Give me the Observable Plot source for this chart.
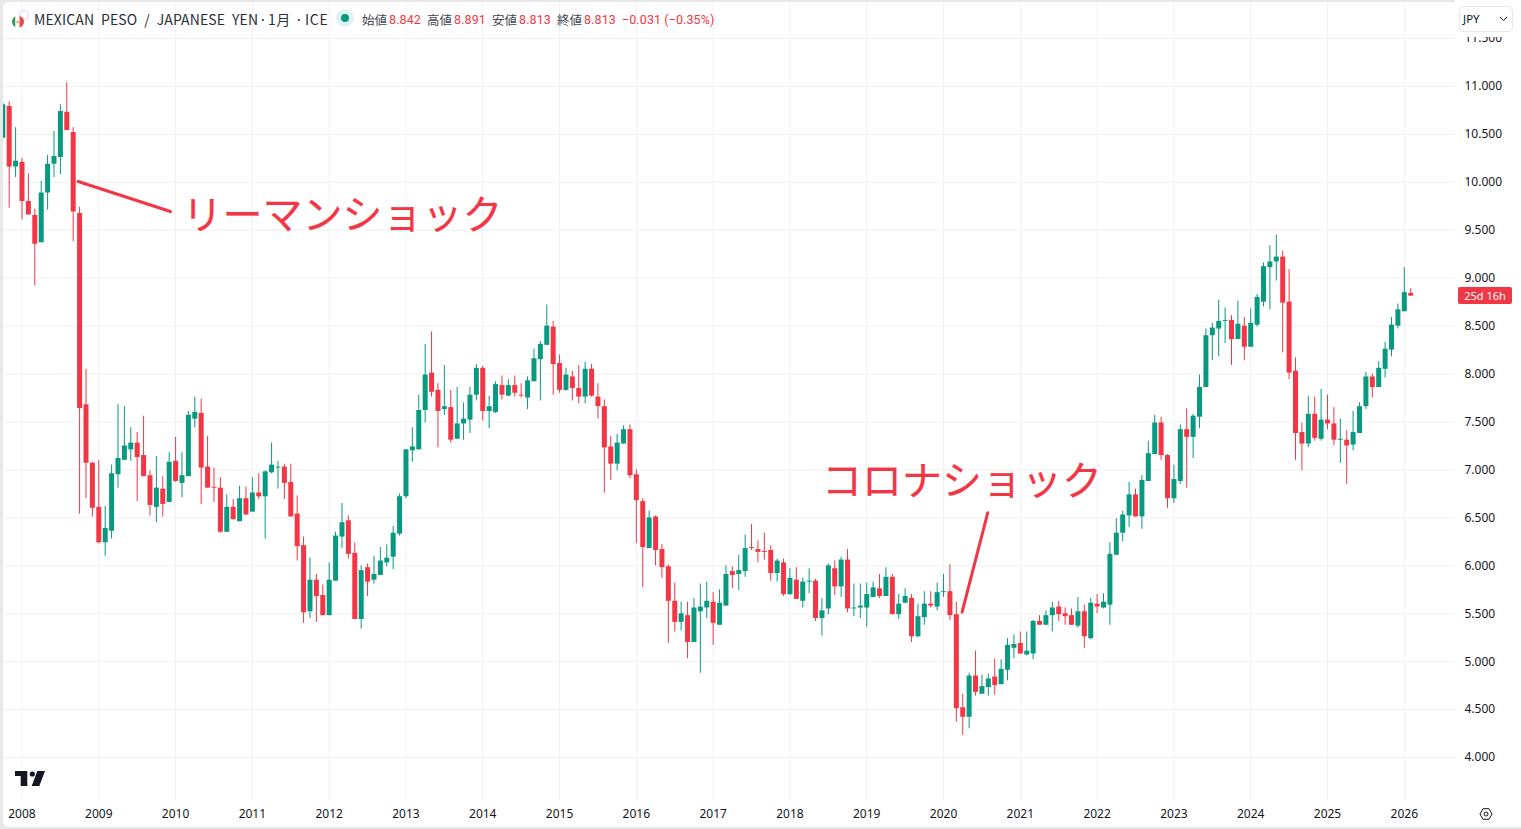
<!DOCTYPE html>
<html lang="ja">
<head>
<meta charset="utf-8">
<script src="https://cdn.jsdelivr.net/npm/d3@7"></script>
<script src="https://cdn.jsdelivr.net/npm/@observablehq/plot@0.6"></script>
<style>
html,body{margin:0;padding:0;width:1521px;height:829px;overflow:hidden;background:#e8e8e8;font-family:"Noto Sans","Noto Sans CJK JP",sans-serif}
#panel{position:absolute;left:3px;top:2px;width:1518px;height:825px;background:#fff;border-radius:6px 0 0 6px;overflow:hidden}
#panel svg{display:block}
.t{position:absolute;white-space:nowrap;line-height:16px}
.h{top:11px;font-size:14px;color:#2a2e39;font-family:'Noto Sans CJK JP',sans-serif}
.g{color:#434651;font-size:12.5px;top:12px;font-family:"Noto Sans CJK JP",sans-serif}
.r{color:#f23645;font-size:12.5px;top:12px;font-family:Roboto,sans-serif;letter-spacing:.1px}
#cover{position:absolute;left:1455px;top:0;width:66px;height:36.5px;background:#fff}
#jpy{position:absolute;left:1459px;top:6px;width:54px;height:26px;box-sizing:border-box;border:1px solid #e6e8ee;border-radius:5px;background:#fff;color:#131722;font-size:11.5px;line-height:24px;padding-left:3px}
#count{position:absolute;left:1458px;top:287px;width:54px;height:17px;background:#f23645;border-radius:2px;color:#fff;font-size:11px;line-height:17px;text-align:center;font-family:"Noto Sans",sans-serif}
svg.ic{position:absolute;left:0;top:0;pointer-events:none}
</style>
</head>
<body>
<div id="panel"></div>
<div class="t h" style="left:34px;letter-spacing:.12px;word-spacing:3.6px">MEXICAN PESO / JAPANESE YEN</div>
<div class="t h" style="left:259px">·</div>
<div class="t h" style="left:268px;letter-spacing:.5px">1月</div>
<div class="t h" style="left:295px">·</div>
<div class="t h" style="left:305px;letter-spacing:.7px">ICE</div>
<div class="t g" style="left:362px">始値</div><div class="t r" style="left:389px">8.842</div>
<div class="t g" style="left:427px">高値</div><div class="t r" style="left:454px">8.891</div>
<div class="t g" style="left:492px">安値</div><div class="t r" style="left:519px">8.813</div>
<div class="t g" style="left:557px">終値</div><div class="t r" style="left:584px">8.813</div>
<div class="t r" style="left:622px">−0.031 (−0.35%)</div>
<div id="cover"></div>
<div id="jpy">JPY</div>
<div id="count">25d 16h</div>
<svg class="ic" width="1521" height="829">
  <defs><clipPath id="flag"><circle cx="18" cy="21.700" r="6"/></clipPath></defs>
  <circle cx="345" cy="18" r="9" fill="#089981" fill-opacity=".12"/>
  <circle cx="345" cy="18" r="4" fill="#089981"/>
  <path d="M1500 17l3.500 3.500 3.500-3.500" fill="none" stroke="#131722" stroke-width="1"/>
  <path d="M15 771h12.300v15h-6.600v-10H15z" fill="#131722"/>
  <circle cx="32.300" cy="774" r="2.600" fill="#131722"/>
  <path d="M37.300 771H45l-5.700 15h-7.600z" fill="#131722"/>
  <path d="M1480 814l3-5.300h6l3 5.300-3 5.300h-6z" fill="none" stroke="#131722" stroke-width="1"/>
  <circle cx="1486" cy="814" r="2" fill="none" stroke="#131722" stroke-width="1"/>
  <circle cx="24" cy="15" r="4.500" fill="#ffffff" stroke="#e4e2f3" stroke-width="1.500"/>
  <g clip-path="url(#flag)">
    <rect x="12" y="15" width="3.500" height="13" fill="#2e9b5f"/>
    <rect x="15.500" y="15" width="4" height="13" fill="#ffffff"/>
    <rect x="19.500" y="15" width="4.500" height="13" fill="#e5484d"/>
    <circle cx="17.500" cy="22" r="1.200" fill="#d9a441"/>
  </g>
</svg>
<script>
const opens = [
  10.46,10.79,10.16,
  10.21,9.80,9.655,9.37,9.89,10.19,10.26,10.73,10.52,9.675,7.68,7.07,
  6.61,6.24,6.36,6.95,7.10,7.21,7.28,7.15,6.94,6.61,6.80,6.66,
  7.09,6.86,6.93,7.53,7.59,7.03,6.82,6.81,6.35,6.61,6.46,6.70,
  6.56,6.76,6.72,6.97,7.02,7.03,6.87,6.54,6.21,5.52,5.85,5.69,
  5.48,5.84,6.30,6.47,6.13,5.44,5.98,5.85,5.90,6.03,6.09,6.33,
  6.72,7.20,7.21,7.62,8.01,7.83,7.63,7.65,7.32,7.48,7.52,7.78,
  8.06,7.61,7.60,7.88,7.77,7.88,7.78,7.75,7.92,8.15,8.30,8.49,
  8.11,7.83,7.97,7.85,7.76,8.05,7.76,7.66,7.24,7.06,7.27,7.42,
  6.95,6.67,6.18,6.51,6.17,5.99,5.63,5.41,5.48,5.20,5.52,5.56,
  5.62,5.38,5.58,5.94,5.91,5.94,6.19,6.17,6.15,6.16,5.92,6.03,
  5.70,5.85,5.63,5.83,5.84,5.45,5.55,5.97,5.78,6.06,5.55,5.56,
  5.56,5.67,5.76,5.68,5.88,5.49,5.61,5.66,5.26,5.46,5.60,5.57,
  5.72,5.73,5.49,4.52,4.42,4.85,4.66,4.73,4.84,4.76,4.91,5.14,
  5.19,5.07,5.08,5.42,5.38,5.48,5.57,5.50,5.48,5.37,5.52,5.24,
  5.60,5.56,5.59,6.11,6.34,6.52,6.74,6.51,6.88,7.16,7.49,7.15,
  6.70,6.88,7.42,7.34,7.55,7.86,8.40,8.47,8.55,8.56,8.36,8.50,
  8.28,8.51,8.75,9.11,9.17,9.22,8.75,8.03,7.39,7.27,7.58,7.32,
  7.52,7.48,7.31,7.31,7.26,7.38,7.66,7.97,7.86,8.05,8.25,8.50,
  8.65,8.842
];
const highs = [
  10.83,10.84,10.57,
  10.25,10.09,9.72,10.01,10.28,10.53,10.81,11.04,10.57,9.74,8.05,7.08,
  7.10,6.62,7.05,7.68,7.66,7.44,7.39,7.56,6.99,7.14,6.93,7.18,
  7.34,7.18,7.61,7.76,7.74,7.35,7.02,6.92,6.74,6.69,6.83,6.82,
  6.92,6.96,6.99,7.28,7.09,7.06,7.06,6.73,6.30,6.08,5.91,5.80,
  6.03,6.35,6.65,6.52,6.24,6.00,6.02,6.10,6.19,6.22,6.41,6.75,
  7.21,7.44,7.78,8.31,8.44,7.90,8.09,7.83,7.86,7.70,7.86,8.10,
  8.08,7.77,7.92,7.98,7.94,7.98,7.90,7.97,8.26,8.34,8.72,8.55,
  8.20,8.06,8.03,8.09,8.12,8.10,7.90,7.73,7.35,7.37,7.46,7.47,
  7.00,6.70,6.57,6.52,6.22,6.01,5.82,5.62,5.62,5.66,5.81,5.83,
  5.72,5.75,6.00,5.99,6.11,6.32,6.43,6.26,6.34,6.21,6.07,6.07,
  5.97,5.98,5.87,5.97,5.86,5.66,6.02,6.05,6.09,6.17,5.81,5.81,
  5.82,5.83,5.91,5.98,5.91,5.70,5.76,5.70,5.60,5.73,5.73,5.82,
  5.91,6.01,5.62,4.66,4.88,5.11,4.86,4.87,5.03,5.02,5.24,5.28,
  5.31,5.31,5.43,5.48,5.53,5.62,5.63,5.56,5.55,5.67,5.59,5.66,
  5.70,5.71,6.24,6.49,6.57,6.87,6.80,6.94,7.30,7.57,7.55,7.16,
  7.05,7.47,7.64,7.58,7.99,8.47,8.53,8.77,8.69,8.61,8.76,8.59,
  8.68,8.83,9.16,9.34,9.45,9.28,9.09,8.17,7.49,7.77,7.76,7.84,
  7.78,7.65,7.53,7.41,7.61,7.70,8.02,8.00,8.13,8.33,8.59,8.73,
  9.11,8.891
];
const lows = [
  10.45,9.73,10.05,
  9.61,9.66,8.92,9.37,9.71,10.05,10.08,10.54,9.38,6.54,6.70,6.51,
  6.23,6.10,6.28,6.81,7.10,7.09,6.67,6.93,6.52,6.45,6.51,6.66,
  6.87,6.71,6.93,7.44,6.64,6.81,6.66,6.34,6.35,6.48,6.46,6.53,
  6.56,6.69,6.28,6.96,6.80,6.69,6.51,6.05,5.40,5.45,5.41,5.48,
  5.48,5.84,6.18,6.07,5.44,5.34,5.68,5.81,5.90,5.99,5.96,6.31,
  6.70,7.08,7.21,7.49,7.76,7.23,7.57,7.28,7.32,7.31,7.38,7.72,
  7.51,7.43,7.59,7.73,7.77,7.76,7.75,7.63,7.92,7.72,8.30,7.78,
  7.80,7.82,7.72,7.69,7.69,7.76,7.53,6.76,6.89,6.99,7.27,6.91,
  6.23,5.77,6.18,6.00,5.87,5.19,5.31,5.32,5.03,5.20,4.88,5.45,
  5.17,5.38,5.58,5.76,5.74,5.88,6.16,6.03,6.06,5.84,5.83,5.68,
  5.69,5.65,5.56,5.71,5.42,5.27,5.49,5.69,5.67,5.51,5.47,5.45,
  5.36,5.67,5.66,5.68,5.49,5.44,5.61,5.20,5.25,5.38,5.56,5.53,
  5.67,5.43,4.37,4.23,4.30,4.64,4.66,4.64,4.65,4.76,4.80,5.03,
  5.08,5.06,5.02,5.38,5.38,5.31,5.42,5.38,5.38,5.35,5.14,5.23,
  5.50,5.55,5.38,6.11,6.25,6.40,6.51,6.38,6.88,7.16,7.10,6.60,
  6.65,6.85,6.81,7.12,7.43,7.86,8.14,8.18,8.32,8.09,8.36,8.14,
  8.28,8.49,8.70,8.67,8.97,8.22,7.94,7.10,6.99,7.23,7.30,7.30,
  7.42,7.25,7.07,6.85,7.20,7.38,7.63,7.75,7.86,7.96,8.18,8.47,
  8.65,8.813
];
const closes = [
  10.81,10.16,10.22,
  9.80,9.66,9.355,9.89,10.19,10.27,10.74,10.54,9.69,7.64,7.07,6.60,
  6.24,6.39,6.96,7.12,7.25,7.28,7.13,6.93,6.63,6.81,6.64,7.08,
  6.88,6.94,7.57,7.60,7.02,6.81,6.81,6.35,6.61,6.48,6.70,6.53,
  6.76,6.72,6.98,7.05,7.03,6.86,6.51,6.20,5.51,5.85,5.68,5.48,
  5.85,6.31,6.45,6.12,5.44,5.95,5.83,5.91,6.05,6.08,6.34,6.72,
  7.21,7.24,7.62,7.99,7.81,7.61,7.66,7.31,7.48,7.53,7.78,8.06,
  7.61,7.66,7.89,7.78,7.88,7.80,7.77,7.93,8.16,8.31,8.50,8.10,
  7.83,7.99,7.85,7.76,8.05,7.77,7.66,7.23,7.06,7.28,7.42,6.94,
  6.68,6.19,6.50,6.16,5.98,5.63,5.41,5.50,5.20,5.56,5.57,5.63,
  5.40,5.61,5.91,5.90,5.95,6.18,6.18,6.14,6.14,5.92,6.05,5.70,
  5.87,5.65,5.83,5.84,5.45,5.53,6.00,5.78,6.06,5.55,5.56,5.58,
  5.70,5.77,5.68,5.88,5.49,5.60,5.68,5.26,5.47,5.60,5.58,5.72,
  5.73,5.48,4.51,4.42,4.85,4.68,4.74,4.82,4.75,4.92,5.17,5.18,
  5.08,5.11,5.42,5.38,5.48,5.56,5.49,5.47,5.38,5.52,5.26,5.61,
  5.57,5.62,6.12,6.34,6.53,6.74,6.51,6.89,7.17,7.49,7.15,6.70,
  6.90,7.42,7.34,7.56,7.86,8.40,8.48,8.55,8.56,8.36,8.52,8.28,
  8.53,8.80,9.12,9.17,9.22,8.74,8.01,7.38,7.27,7.58,7.33,7.52,
  7.48,7.31,7.32,7.25,7.39,7.66,7.97,7.86,8.06,8.26,8.51,8.67,
  8.85,8.813
];
const firstMonth = -3; // months from January 2008 (October 2007)
const years = d3.range(2008, 2027);
const priceTicks = [4,4.5,5,5.5,6,6.5,7,7.5,8,8.5,9,9.5,10,10.5,11,11.5];
const red = "#f23645", green = "#089981", gridColor = "#f1f1f2", inkColor = "#131722";

const candles = opens.map((o, k) => ({
  month: firstMonth + k, open: o, high: highs[k], low: lows[k], close: closes[k],
  dir: closes[k] >= o ? "up" : "down"
}));
const callouts = [
  {label: "リーマンショック", month: 50.1, price: 9.645},
  {label: "コロナショック", month: 146.9, price: 6.87}
];
const pointers = [
  {m1: 8.78, p1: 10.009, m2: 23.2, p2: 9.696},
  {m1: 146.9, p1: 5.516, m2: 150.9, p2: 6.553}
];

const chart = Plot.plot({
  width: 1518, height: 825,
  marginLeft: 0, marginRight: 66, marginTop: 0, marginBottom: 27,
  style: {background: "transparent", fontFamily: "'Noto Sans',sans-serif", overflow: "visible"},
  x: {type: "linear", domain: [-2.89, 224], label: null},
  y: {type: "linear", domain: [3.552, 11.876], label: null},
  color: {domain: ["up", "down"], range: [green, red]},
  marks: [
    Plot.gridX(years.map(y => (y - 2008) * 12), {stroke: gridColor, strokeOpacity: 1}),
    Plot.gridY(priceTicks, {stroke: gridColor, strokeOpacity: 1}),
    Plot.ruleX(candles, {x: "month", y1: "low", y2: "high", stroke: "dir", strokeWidth: 1}),
    Plot.ruleX(candles, {x: "month", y1: "open", y2: "close", stroke: "dir", strokeWidth: 5}),
    Plot.link(pointers, {x1: "m1", y1: "p1", x2: "m2", y2: "p2", stroke: red, strokeWidth: 3, strokeLinecap: "round"}),
    Plot.text(callouts, {x: "month", y: "price", text: "label", fill: red, stroke: red, strokeWidth: 0.2, fontSize: 40, fontFamily: "'Noto Sans CJK JP',sans-serif", fontWeight: 400}),
    Plot.axisX({anchor: "bottom", ticks: years.map(y => (y - 2008) * 12), tickFormat: m => String(2008 + m / 12), tickSize: 0, tickPadding: 9, fontSize: 12, fill: inkColor, label: null}),
    Plot.axisY({anchor: "right", ticks: priceTicks, tickFormat: d3.format(".3f"), tickSize: 0, tickPadding: 9, fontSize: 12, fill: inkColor, label: null})
  ]
});
document.getElementById("panel").appendChild(chart);
</script>
</body>
</html>
